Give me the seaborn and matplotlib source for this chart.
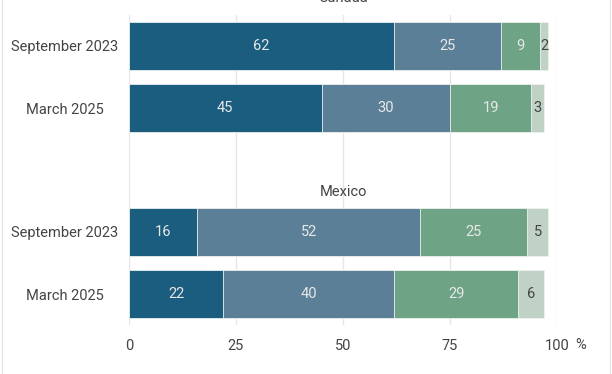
import pandas as pd
import matplotlib.pyplot as plt
import matplotlib.transforms as mtransforms
import seaborn as sns
from matplotlib.lines import Line2D

# -----------------------------
# Data
# -----------------------------
countries = ["Canada", "Canada", "Mexico", "Mexico"]
periods = ["September 2023", "March 2025", "September 2023", "March 2025"]
seg1 = [62, 45, 16, 22]
seg2 = [25, 30, 52, 40]
seg3 = [9, 19, 25, 29]
seg4 = [2, 3, 5, 6]

colors = ["#1a5d7e", "#5b7f96", "#6ea386", "#c0d1c5"]
text_colors = ["#e8e8e8", "#e8e8e8", "#e8e8e8", "#444444"]

df = pd.DataFrame({"country": countries, "period": periods,
                   "s1": seg1, "s2": seg2, "s3": seg3, "s4": seg4})
df["row"] = df["country"] + " | " + df["period"]
order = [df["row"][0], df["row"][1], "gap", df["row"][2], df["row"][3]]

segs = ["s1", "s2", "s3", "s4"]
cum = df[segs].cumsum(axis=1)

sns.set_style("white")
plt.rcParams["font.family"] = ["Roboto", "DejaVu Sans"]

fig = plt.figure(figsize=(6.12, 3.74), dpi=100)
ax = fig.add_axes([129 / 612, 1 - 325 / 374, 428 / 612, 310 / 374])

# draw from the full stack back to the first segment
for i in range(3, -1, -1):
    sns.barplot(x=cum[segs[i]], y=df["row"], order=order, orient="h",
                color=colors[i], width=0.76, edgecolor="#eef2ef",
                linewidth=0.6, saturation=1, ax=ax, zorder=2)

# value labels
for r in range(len(df)):
    ypos = order.index(df["row"][r])
    left = 0
    for i, s in enumerate(segs):
        v = df[s][r]
        ax.text(left + v / 2, ypos, str(v), ha="center", va="center",
                fontsize=10.5, color=text_colors[i], zorder=3)
        left += v

ax.set_xlim(0, 100)
ax.set_ylim(4.5, -0.5)
ax.set_xticks([0, 25, 50, 75, 100])
ax.set_xticklabels(["0", "25", "50", "75", "100"])
ax.set_yticks([0, 1, 3, 4])
ax.set_yticklabels(["September 2023", "March 2025", "September 2023", "March 2025"])
for lab in ax.get_yticklabels():
    lab.set_horizontalalignment("center")
ax.tick_params(axis="both", length=0, labelsize=10.5, labelcolor="#444444")
ax.tick_params(axis="y", pad=46)
ax.tick_params(axis="x", pad=10)
ax.set_xlabel("")
ax.set_ylabel("")
ax.xaxis.grid(True, color="#e6e6e6", linewidth=1, zorder=0)
ax.set_axisbelow(True)
for sp in ax.spines.values():
    sp.set_visible(False)

trans = mtransforms.blended_transform_factory(ax.transData, fig.transFigure)
ax.text(105.5, 1 - 345 / 374, "%", transform=trans, ha="center", va="center",
        fontsize=10.5, color="#444444")
ax.text(50, -0.77, "Canada", ha="center", va="center", fontsize=10.5, color="#444444")
ax.text(50, 2.35, "Mexico", ha="center", va="center", fontsize=10.5, color="#444444")

# frame edges
fig.add_artist(Line2D([1.5 / 612, 1.5 / 612], [0, 1], color="#e6e6e6", lw=1))
fig.add_artist(Line2D([609.5 / 612, 609.5 / 612], [0, 1], color="#e6e6e6", lw=1))

fig.savefig("out.png", dpi=100)
